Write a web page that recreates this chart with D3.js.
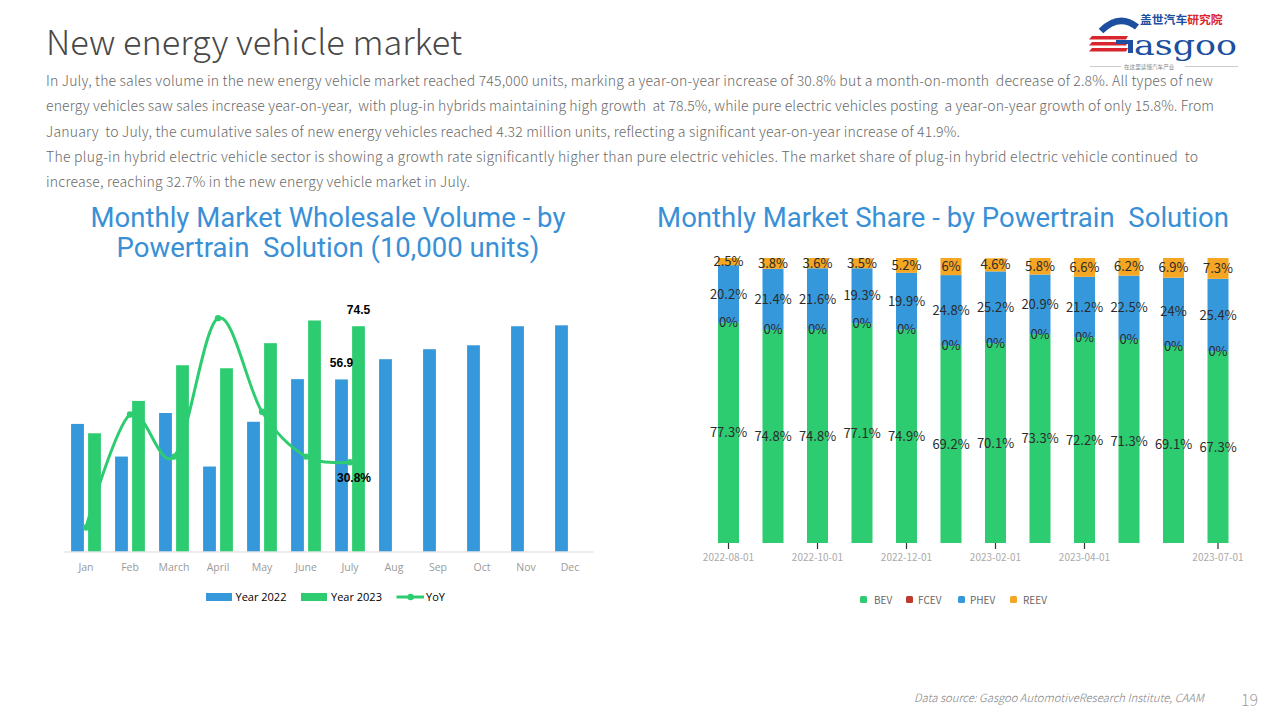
<!DOCTYPE html>
<html>
<head>
<meta charset="utf-8">
<script src="https://cdn.jsdelivr.net/npm/d3@7"></script>
<style>
  html, body { margin: 0; padding: 0; background: #fff; }
  svg { display: block; }
</style>
</head>
<body>
<svg id="root" width="1280" height="720"></svg>
<script>
// ---------------- DATA ----------------
const pageTitle = "New energy vehicle market";
const bodyLines = [
  "In July, the sales volume in the new energy vehicle market reached 745,000 units, marking a year-on-year increase of 30.8% but a month-on-month  decrease of 2.8%. All types of new",
  "energy vehicles saw sales increase year-on-year,  with plug-in hybrids maintaining high growth  at 78.5%, while pure electric vehicles posting  a year-on-year growth of only 15.8%. From",
  "January  to July, the cumulative sales of new energy vehicles reached 4.32 million units, reflecting a significant year-on-year increase of 41.9%.",
  "The plug-in hybrid electric vehicle sector is showing a growth rate significantly higher than pure electric vehicles. The market share of plug-in hybrid electric vehicle continued  to",
  "increase, reaching 32.7% in the new energy vehicle market in July."
];
const bodyWidths = [1167, 1168, 914, 1152, 424];

// Left chart
const leftTitle = ["Monthly Market Wholesale Volume - by", "Powertrain  Solution (10,000 units)"];
const months = ["Jan","Feb","March","April","May","June","July","Aug","Sep","Oct","Nov","Dec"];
const vol2022 = [42.2, 31.4, 45.8, 28.1, 42.9, 57.0, 56.9, 63.6, 66.9, 68.2, 74.5, 74.8];
const vol2023 = [39.1, 49.8, 61.6, 60.6, 68.9, 76.4, 74.5];
const yoy = [-6.3, 58.0, 34.0, 112.8, 59.5, 34.0, 30.8];
const leftSeries = ["Year 2022", "Year 2023", "YoY"];

// Right chart
const rightTitle = "Monthly Market Share - by Powertrain  Solution";
const shareDates = ["2022-08-01","2022-09-01","2022-10-01","2022-11-01","2022-12-01","2023-01-01",
                    "2023-02-01","2023-03-01","2023-04-01","2023-05-01","2023-06-01","2023-07-01"];
const shareTickLabels = ["2022-08-01","2022-10-01","2022-12-01","2023-02-01","2023-04-01","2023-07-01"];
const bev  = [77.3, 74.8, 74.8, 77.1, 74.9, 69.2, 70.1, 73.3, 72.2, 71.3, 69.1, 67.3];
const fcev = [0, 0, 0, 0, 0, 0, 0, 0, 0, 0, 0, 0];
const phev = [20.2, 21.4, 21.6, 19.3, 19.9, 24.8, 25.2, 20.9, 21.2, 22.5, 24, 25.4];
const reev = [2.5, 3.8, 3.6, 3.5, 5.2, 6, 4.6, 5.8, 6.6, 6.2, 6.9, 7.3];
const shareKeys = ["BEV", "FCEV", "PHEV", "REEV"];

const footerText = "Data source: Gasgoo AutomotiveResearch Institute, CAAM";
const pageNum = "19";

// ---------------- STYLE ----------------
const BLUE = "#3498db", GREEN = "#2ecc71", ORANGE = "#f5a623", RED = "#c0392b";
const TITLE_BLUE = "#3990d6";
const CJK = "'Noto Sans CJK SC', 'Noto Sans', sans-serif";
const TITLE_FONT = "Roboto, 'Open Sans', sans-serif";

const svg = d3.select("#root");
svg.append("rect").attr("width", 1280).attr("height", 720).attr("fill", "#fff");

function fitFont(sel, w) {
  const l = sel.node().getComputedTextLength();
  const fs = parseFloat(sel.attr("font-size"));
  if (l > 0) sel.attr("font-size", (fs * w / l).toFixed(2));
  return sel;
}

// ---------------- HEADER ----------------
const t = svg.append("text").attr("x", 46).attr("y", 55)
  .attr("font-family", CJK).attr("font-weight", 300).attr("font-size", 32)
  .attr("fill", "#484848").text(pageTitle);
fitFont(t, 416);

const body = svg.append("g");
const bl = body.selectAll("text").data(bodyLines).join("text")
  .attr("x", 46).attr("y", (d, i) => 86 + i * 25.3)
  .attr("font-family", CJK).attr("font-weight", 300).attr("font-size", 13)
  .attr("fill", "#6a6a6a").attr("xml:space", "preserve")
  .style("white-space", "pre")
  .text(d => d);
{
  const l0 = bl.nodes()[0].getComputedTextLength();
  const fs = 13 * bodyWidths[0] / l0;
  bl.attr("font-size", Math.min(Math.max(fs, 11.5), 14).toFixed(2));
  bl.each(function (d, i) {
    const n = d3.select(this);
    const len = this.getComputedTextLength();
    if (Math.abs(len - bodyWidths[i]) / bodyWidths[i] < 0.06) {
      n.attr("textLength", bodyWidths[i]).attr("lengthAdjust", "spacing");
    }
  });
}

// Logo (graphic parts)
const logo = svg.append("g");
logo.append("path").attr("d", "M1137,27 Q1119,13 1101,31").attr("fill", "none")
  .attr("stroke", "#1d4fa0").attr("stroke-width", 6.5);
[36, 42, 48].forEach((y) => {
  logo.append("path").attr("d", `M${1092},${y} L${1128},${y} L${1126},${y + 3.5} L${1089},${y + 3.5} Z`).attr("fill", "#d9262e");
});
logo.append("rect").attr("x", 1116).attr("y", 40).attr("width", 16).attr("height", 4).attr("fill", "#1d4fa0");
logo.append("rect").attr("x", 1128).attr("y", 40).attr("width", 5).attr("height", 13).attr("fill", "#1d4fa0");
logo.append("line").attr("x1", 1090).attr("x2", 1121).attr("y1", 66.5).attr("y2", 66.5).attr("stroke", "#aaa").attr("stroke-width", 0.6);
logo.append("line").attr("x1", 1185).attr("x2", 1238).attr("y1", 66.5).attr("y2", 66.5).attr("stroke", "#aaa").attr("stroke-width", 0.6);
const lt = logo.append("text").attr("font-family", CJK);
lt.append("tspan").attr("x", 1140).attr("y", 23.5).attr("font-weight", 700).attr("font-size", 11.8)
  .attr("fill", "#1d4fa0").text("盖世汽车");
lt.append("tspan").attr("font-weight", 700).attr("font-size", 11.8).attr("fill", "#d9262e").text("研究院");
logo.append("text").attr("x", 1134).attr("y", 54.5).attr("font-family", "'DejaVu Serif', serif")
  .attr("font-size", 28.5).attr("fill", "#1d4fa0").attr("textLength", 103).attr("lengthAdjust", "spacingAndGlyphs")
  .text("asgoo");
logo.append("text").attr("x", 1124).attr("y", 68.5).attr("font-family", CJK)
  .attr("font-size", 5.6).attr("fill", "#888").text("在这里读懂汽车产业");

// ---------------- LEFT CHART ----------------
const L = svg.append("g");
{
  const t1 = L.append("text").attr("x", 328).attr("y", 226.5).attr("text-anchor", "middle")
    .attr("font-family", TITLE_FONT).attr("font-size", 24).attr("fill", TITLE_BLUE)
    .attr("xml:space", "preserve").style("white-space", "pre").text(leftTitle[0]);
  fitFont(t1, 475);
  L.append("text").attr("x", 328).attr("y", 256.5).attr("text-anchor", "middle")
    .attr("font-family", TITLE_FONT).attr("font-size", t1.attr("font-size")).attr("fill", TITLE_BLUE)
    .attr("xml:space", "preserve").style("white-space", "pre").text(leftTitle[1]);
}

const xL = d3.scaleBand().domain(months).range([64, 592]).padding(0);
const xSub = d3.scaleBand().domain(["2022", "2023"]).range([0, xL.bandwidth()])
  .paddingInner(0.247).paddingOuter(0.4175);
const yL = d3.scaleLinear().domain([0, 80]).range([551.5, 309.6]);
const yR = d3.scaleLinear().domain([-20, 120]).range([551.5, 305.5]);

L.append("g").selectAll("rect").data(vol2022).join("rect")
  .attr("x", (d, i) => xL(months[i]) + xSub("2022")).attr("width", xSub.bandwidth())
  .attr("y", d => yL(d)).attr("height", d => yL(0) - yL(d)).attr("fill", BLUE);
L.append("g").selectAll("rect").data(vol2023).join("rect")
  .attr("x", (d, i) => xL(months[i]) + xSub("2023")).attr("width", xSub.bandwidth())
  .attr("y", d => yL(d)).attr("height", d => yL(0) - yL(d)).attr("fill", GREEN);

// x axis
const axL = L.append("g").attr("transform", `translate(0,${yL(0)})`)
  .call(d3.axisBottom(xL).tickSize(0).tickPadding(12).tickSizeOuter(0));
axL.select(".domain").attr("stroke", "#d9d9d9").attr("d", "M63.5,0.5H593.5");
axL.selectAll("text").attr("font-family", "'Open Sans', sans-serif").attr("font-size", 10.5).attr("fill", "#9a9a9a");

// YoY line
const cx = (i) => xL(months[i]) + xL.bandwidth() / 2;
const lineGen = d3.line().x((d, i) => cx(i)).y(d => yR(d)).curve(d3.curveCardinal.tension(0));
L.append("path").datum(yoy).attr("d", lineGen).attr("fill", "none").attr("stroke", GREEN).attr("stroke-width", 3);
L.append("g").selectAll("circle").data(yoy).join("circle")
  .attr("cx", (d, i) => cx(i)).attr("cy", d => yR(d)).attr("r", 3.2).attr("fill", GREEN);

// data labels
const lab = L.append("g").attr("font-family", "'Liberation Sans', Arial, sans-serif").attr("font-weight", 700)
  .attr("font-size", 12).attr("fill", "#000").attr("text-anchor", "middle");
const j = 6;
lab.append("text").attr("x", xL(months[j]) + xSub("2023") + xSub.bandwidth() / 2).attr("y", yL(vol2023[j]) - 12).text(vol2023[j]);
lab.append("text").attr("x", xL(months[j]) + xSub("2022") + xSub.bandwidth() / 2).attr("y", yL(vol2022[j]) - 12).text(vol2022[j]);
lab.append("text").attr("x", cx(j) + 4).attr("y", yR(yoy[j]) + 20).text(yoy[j] + "%");

// legend
const lgL = L.append("g").attr("font-family", "'Open Sans', sans-serif").attr("font-size", 11).attr("fill", "#000");
lgL.append("rect").attr("x", 206).attr("y", 593).attr("width", 26).attr("height", 8).attr("fill", BLUE);
lgL.append("text").attr("x", 235.5).attr("y", 601).text(leftSeries[0]);
lgL.append("rect").attr("x", 301).attr("y", 593).attr("width", 26).attr("height", 8).attr("fill", GREEN);
lgL.append("text").attr("x", 331).attr("y", 601).text(leftSeries[1]);
lgL.append("line").attr("x1", 396.5).attr("x2", 424).attr("y1", 597).attr("y2", 597).attr("stroke", GREEN).attr("stroke-width", 3);
lgL.append("circle").attr("cx", 410.6).attr("cy", 597).attr("r", 3.2).attr("fill", GREEN);
lgL.append("text").attr("x", 426).attr("y", 601).text(leftSeries[2]);

// ---------------- RIGHT CHART ----------------
const R = svg.append("g");
const rt = R.append("text").attr("x", 943).attr("y", 226.5).attr("text-anchor", "middle")
  .attr("font-family", TITLE_FONT).attr("font-size", 24).attr("fill", TITLE_BLUE)
  .attr("xml:space", "preserve").style("white-space", "pre").text(rightTitle);
fitFont(rt, 572);

const xS = d3.scaleBand().domain(shareDates).range([706.25, 1240.25]).paddingInner(0.528).paddingOuter(0.264);
const yS = d3.scaleLinear().domain([0, 100]).range([543, 258]);

const rows = shareDates.map((d, i) => ({ date: d, BEV: bev[i], FCEV: fcev[i], PHEV: phev[i], REEV: reev[i] }));
const stack = d3.stack().keys(shareKeys)(rows);
const colors = { BEV: GREEN, FCEV: RED, PHEV: BLUE, REEV: ORANGE };

R.append("g").selectAll("g").data(stack).join("g").attr("fill", s => colors[s.key])
  .selectAll("rect").data(s => s).join("rect")
  .attr("x", d => xS(d.data.date)).attr("width", xS.bandwidth())
  .attr("y", d => yS(d[1])).attr("height", d => yS(d[0]) - yS(d[1]));

R.append("g").selectAll("g").data(stack).join("g")
  .selectAll("text").data(s => s.map(p => ({ p, key: s.key }))).join("text")
  .attr("x", d => xS(d.p.data.date) + xS.bandwidth() / 2)
  .attr("y", d => yS((d.p[0] + d.p[1]) / 2) + 4.6)
  .attr("text-anchor", "middle").attr("font-family", CJK).attr("font-size", 13).attr("fill", "#2b2b2b")
  .text(d => d.p.data[d.key] + "%");

// axis with ticks only at selected dates
const axS = R.append("g").attr("transform", `translate(0,${yS(0)})`)
  .call(d3.axisBottom(xS).tickValues(shareTickLabels).tickSize(6).tickPadding(5).tickSizeOuter(0));
axS.select(".domain").remove();
axS.selectAll(".tick line").attr("stroke", "#333").attr("stroke-width", 1.2);
axS.selectAll("text").attr("font-family", CJK).attr("font-size", 10).attr("fill", "#aaa");

// legend
const lgS = R.append("g").attr("font-family", CJK).attr("font-size", 10).attr("fill", "#666");
const lgPos = [[860, 874], [906, 918], [958, 970], [1010, 1023]];
shareKeys.forEach((k, i) => {
  lgS.append("rect").attr("x", lgPos[i][0]).attr("y", 596).attr("width", 7).attr("height", 7).attr("rx", 1.5).attr("fill", colors[k]);
  lgS.append("text").attr("x", lgPos[i][1]).attr("y", 603.5).text(k);
});

// ---------------- FOOTER ----------------
const ft = svg.append("text").attr("x", 914).attr("y", 702).attr("font-family", CJK).attr("font-style", "italic")
  .attr("font-weight", 300).attr("font-size", 10.5).attr("fill", "#7f7f7f").text(footerText);
fitFont(ft, 290);
svg.append("text").attr("x", 1241).attr("y", 706).attr("font-family", CJK).attr("font-weight", 300)
  .attr("font-size", 16).attr("fill", "#a0a0a0").text(pageNum);
</script>
</body>
</html>
